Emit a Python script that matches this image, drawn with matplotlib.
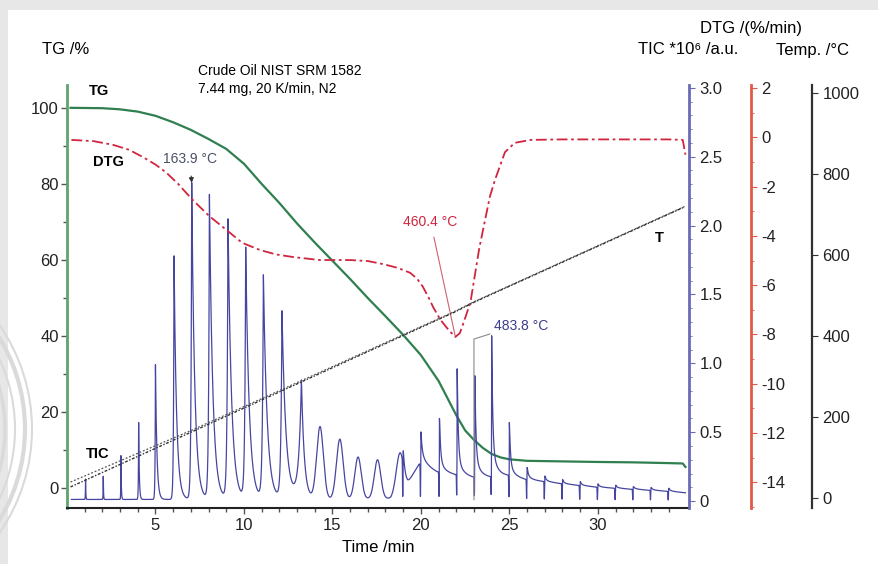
import numpy as np
import matplotlib
matplotlib.use("Agg")
import matplotlib.pyplot as plt
from matplotlib.patches import Rectangle, Arc
from matplotlib.ticker import MultipleLocator, FixedLocator

plt.rcParams['font.family'] = ['Liberation Sans', 'DejaVu Sans']
plt.rcParams['axes.unicode_minus'] = False

# --- TG mass loss (%)
tg_time = [0.2, 2, 3, 4, 5, 6, 7, 8, 9, 10, 11, 12, 13, 14, 15, 16, 17, 18, 19, 20,
           21, 22, 22.5, 23, 23.5, 24, 24.5, 25, 26, 28, 30, 32, 34, 34.8, 34.95]
tg_mass = [100, 99.9, 99.6, 99.0, 97.9, 96.2, 94.2, 91.8, 89.2, 85.3, 80.0, 75.0, 69.6,
           64.6, 59.8, 55.0, 50.0, 45.2, 40.3, 35.0, 28.2, 19.2, 15.2, 12.7, 10.6, 9.0,
           8.1, 7.6, 7.2, 7.05, 6.9, 6.8, 6.6, 6.5, 5.6]

# --- DTG (%/min)
dtg_time = [0.25, 1.5, 2.6, 3.5, 4.3, 5.0, 5.6, 6.3, 7.05, 8.05, 9.0, 9.9, 10.9, 11.8,
            12.8, 14.3, 16.0, 17.0, 17.9, 18.7, 19.4, 19.8, 20.1, 20.4, 20.7, 21.1, 21.6,
            21.95, 22.2, 22.4, 22.8, 23.3, 23.9, 24.2, 24.75, 25.3, 26.2, 28, 30, 32, 34,
            34.8, 34.95]
dtg_rate = [-0.1, -0.15, -0.3, -0.5, -0.8, -1.1, -1.42, -1.9, -2.5, -3.2, -3.75, -4.28,
            -4.57, -4.75, -4.86, -4.98, -4.98, -5.02, -5.15, -5.3, -5.5, -5.75, -6.05,
            -6.45, -6.9, -7.4, -7.85, -8.1, -7.95, -7.55, -6.7, -4.5, -2.4, -1.7, -0.6,
            -0.22, -0.1, -0.08, -0.08, -0.08, -0.08, -0.1, -0.7]

# --- temperature (°C), sample and program
temp_time = [0.2, 7.05, 21.95, 23.0, 34.9]
temp_sample = [28, 163.9, 460.4, 483.8, 719]
temp_program = [40, 168, 462, 485, 720]

# --- TIC (*10^6 a.u.)
tic_base_time = [0.25, 12.5, 13.6, 18.3, 19.25, 19.9, 20.9, 21.9, 22.9, 23.9, 24.9,
                 25.9, 27.0, 28.0, 30.0, 32.0, 34.0, 34.95]
tic_base_level = [0.012, 0.012, 0.015, 0.02, 0.13, 0.27, 0.21, 0.19, 0.17, 0.17, 0.18,
                  0.155, 0.14, 0.125, 0.10, 0.085, 0.07, 0.06]

early_time = [1.05, 2.05, 3.05, 4.05, 5.0, 6.05, 7.05, 8.05, 9.1, 10.1, 11.1, 12.15, 13.25]
early_top = [0.16, 0.18, 0.33, 0.57, 0.99, 1.78, 2.31, 2.22, 2.04, 1.83, 1.63, 1.37, 0.87]
early_rise = [0.01, 0.01, 0.01, 0.015, 0.02, 0.03, 0.04, 0.045, 0.05, 0.05, 0.055, 0.06, 0.15]
early_fall = [0.015, 0.015, 0.02, 0.035, 0.08, 0.14, 0.17, 0.19, 0.2, 0.2, 0.21, 0.22, 0.16]

hump_time = [14.3, 15.42, 16.45, 17.55, 18.81]
hump_top = [0.54, 0.45, 0.32, 0.30, 0.35]
hump_width = [0.19, 0.19, 0.18, 0.18, 0.2]

late_time = [19.0, 20.0, 21.05, 22.05, 23.05, 24.0, 25.0, 26.0, 27.0, 28.0, 29.0, 30.0,
             31.0, 32.0, 33.0, 34.0]
late_top = [0.36, 0.40, 0.51, 0.83, 0.76, 1.00, 0.49, 0.21, 0.16, 0.14, 0.125, 0.11,
            0.10, 0.09, 0.085, 0.08]
late_tail = [0.0, 0.10, 0.09, 0.13, 0.15, 0.2, 0.08, 0.03, 0.015, 0.01, 0.01, 0.01,
             0.01, 0.01, 0.01, 0.01]

# build the TIC trace from the peak table
t = np.arange(0.25, 34.95, 0.002)
base = np.interp(t, tic_base_time, tic_base_level)
tic = base.copy()
for t0, top, rise, fall in zip(early_time, early_top, early_rise, early_fall):
    dt = t - t0
    tau = np.where(dt < 0, rise, fall)
    tic += (top - np.interp(t0, t, base)) * np.exp(-np.abs(dt) / tau)
for t0, top, w in zip(hump_time, hump_top, hump_width):
    tic += (top - np.interp(t0, t, base)) * np.exp(-0.5 * ((t - t0) / w) ** 2)
for t0, top, tail in zip(late_time, late_top, late_tail):
    dt = t - t0
    tic = tic * (1 - 0.9 * np.exp(-0.5 * ((dt + 0.025) / 0.012) ** 2))
    amp = top - np.interp(t0, t, tic)
    tau = np.where(dt < 0, 0.008, 0.06)
    tic += amp * np.exp(-np.abs(dt) / tau)
    tic += np.where(dt < 0, 0.0, tail * np.exp(-np.clip(dt, 0, None) / 0.3))

# colours
c_tg, c_tg_ax = '#2f7f4f', '#5ea56c'
c_dtg, c_dtg_ax = '#d0253f', '#e0584a'
c_tic, c_tic_ax = '#4646a2', '#6a6ab8'
c_t = '#303030'

fig = plt.figure(figsize=(8.79, 5.64), dpi=100, facecolor='#e7e7e7')
fig.patches.append(Rectangle((8 / 879, 0), 1, 1 - 10 / 564, transform=fig.transFigure,
                             facecolor='white', edgecolor='none', zorder=-5))
for r, lw in [(1.55, 2.5), (1.65, 1.5), (1.75, 3), (1.82, 1.5)]:
    fig.patches.append(Arc((-1.5, 1.35), 2 * r, 2 * r, theta1=-35, theta2=35,
                           transform=fig.dpi_scale_trans, color='#dadada', lw=lw,
                           zorder=-4))

ax = fig.add_axes([0.0762, 0.0993, 0.7076, 0.75])
ax.set_xlim(0, 35.15)
ax.set_ylim(-5.2, 106)
for s in ['top', 'right']:
    ax.spines[s].set_visible(False)
ax.spines['left'].set_color(c_tg_ax)
ax.spines['left'].set_linewidth(2)
ax.spines['bottom'].set_color('#222')
ax.spines['bottom'].set_linewidth(1.5)
ax.xaxis.set_major_locator(FixedLocator([5, 10, 15, 20, 25, 30]))
ax.xaxis.set_minor_locator(FixedLocator(range(1, 35)))
ax.yaxis.set_major_locator(FixedLocator([0, 20, 40, 60, 80, 100]))
ax.yaxis.set_minor_locator(FixedLocator([10, 30, 50, 70, 90]))
ax.tick_params(which='both', direction='out', colors='#555', labelcolor='#222',
               labelsize=12)
ax.tick_params(which='major', length=4, width=1)
ax.tick_params(which='minor', length=3, width=1)
ax.tick_params(axis='y', pad=2)

ax.plot(tg_time, tg_mass, color=c_tg, lw=1.6, zorder=3)

# TIC axis
ax_tic = ax.twinx()
ax_tic.set_ylim(-0.05, 3.02)
for s in ['top', 'left', 'bottom']:
    ax_tic.spines[s].set_visible(False)
ax_tic.spines['right'].set_color(c_tic_ax)
ax_tic.spines['right'].set_linewidth(2)
tic_ticks = [0, 0.5, 1.0, 1.5, 2.0, 2.5, 3.0]
tic_labels = ['0', '0.5', '1.0', '1.5', '2.0', '2.5', '3.0']
ax_tic.set_yticks(tic_ticks, tic_labels)
ax_tic.yaxis.set_minor_locator(MultipleLocator(0.1))
ax_tic.tick_params(which='both', direction='out', colors=c_tic_ax, labelcolor='#222',
                   labelsize=12)
ax_tic.tick_params(which='major', length=4)
ax_tic.tick_params(which='minor', length=2.5)
ax_tic.plot(t, tic, color=c_tic, lw=0.9, zorder=2)

# DTG axis
ax_dtg = ax.twinx()
ax_dtg.set_ylim(-15.05, 2.13)
ax_dtg.spines['right'].set_position(('axes', 1.099))
for s in ['top', 'left', 'bottom']:
    ax_dtg.spines[s].set_visible(False)
ax_dtg.spines['right'].set_color(c_dtg_ax)
ax_dtg.spines['right'].set_linewidth(2)
ax_dtg.yaxis.set_major_locator(MultipleLocator(2))
ax_dtg.yaxis.set_minor_locator(MultipleLocator(1))
ax_dtg.tick_params(which='both', direction='out', colors=c_dtg_ax, labelcolor='#222',
                   labelsize=12)
ax_dtg.tick_params(which='major', length=4)
ax_dtg.tick_params(which='minor', length=2)
ax_dtg.plot(dtg_time, dtg_rate, color=c_dtg, lw=1.3, ls=(0, (6, 2, 1.5, 2)), zorder=4)

# temperature axis
ax_t = ax.twinx()
ax_t.set_ylim(-24, 1020)
ax_t.spines['right'].set_position(('axes', 1.198))
for s in ['top', 'left', 'bottom']:
    ax_t.spines[s].set_visible(False)
ax_t.spines['right'].set_color(c_t)
ax_t.spines['right'].set_linewidth(1.6)
ax_t.set_yticks([0, 200, 400, 600, 800, 1000])
ax_t.tick_params(direction='out', colors=c_t, labelcolor='#222', labelsize=12, length=4)
ax_t.plot(temp_time, temp_program, color='#555', lw=0.9, ls=(0, (1.5, 1.5)), zorder=3)
ax_t.plot(temp_time, temp_sample, color=c_t, lw=1.0, ls=(0, (2, 1.2, 1, 1.2)), zorder=3)

# curve labels
ax.text(1.8, 104.4, 'TG', fontsize=10.5, fontweight='bold', ha='center', va='center')
ax.text(2.35, 85.8, 'DTG', fontsize=10.5, fontweight='bold', ha='center', va='center')
ax.text(1.75, 9.0, 'TIC', fontsize=10.5, fontweight='bold', ha='center', va='center')
ax_t.text(33.5, 643, 'T', fontsize=10.5, fontweight='bold', ha='center', va='center')

# peak annotations
ax_tic.annotate('163.9 °C', xy=(early_time[6], early_top[6]), xytext=(6.95, 2.48),
                fontsize=10, color='#4a5068', ha='center', va='center',
                arrowprops=dict(arrowstyle='-|>', color='#333', lw=0.8,
                                mutation_scale=7, shrinkA=5, shrinkB=0))
ax_dtg.annotate('460.4 °C', xy=(dtg_time[27], dtg_rate[27]), xytext=(20.55, -3.43),
                fontsize=10, color=c_dtg, ha='center', va='center',
                arrowprops=dict(arrowstyle='-', color='#d06070', lw=0.8,
                                shrinkA=4, shrinkB=0))
ax_tic.text(25.65, 1.27, '483.8 °C', fontsize=10, color='#3c3c8c', ha='center', va='center')
ax_tic.plot([temp_time[3], temp_time[3], 23.9], [0.01, 1.176, 1.213], color='#8a8a8a',
            lw=0.8, zorder=3)

# sample note
fig.text(198 / 879, 1 - 71 / 564, 'Crude Oil NIST SRM 1582', fontsize=10, ha='left',
         va='center')
fig.text(198 / 879, 1 - 89 / 564, '7.44 mg, 20 K/min, N2', fontsize=10, ha='left',
         va='center')

# axis titles
fig.text(42 / 879, 1 - 50 / 564, 'TG /%', fontsize=12, ha='left', va='center')
fig.text(378 / 879, 1 - 547 / 564, 'Time /min', fontsize=12, ha='center', va='center')
fig.text(751 / 879, 1 - 28 / 564, 'DTG /(%/min)', fontsize=12, ha='center', va='center')
fig.text(688 / 879, 1 - 50 / 564, 'TIC *10⁶ /a.u.', fontsize=12, ha='center', va='center')
fig.text(813 / 879, 1 - 50 / 564, 'Temp. /°C', fontsize=12, ha='center', va='center')

fig.savefig('out.png', dpi=100, facecolor=fig.get_facecolor())
